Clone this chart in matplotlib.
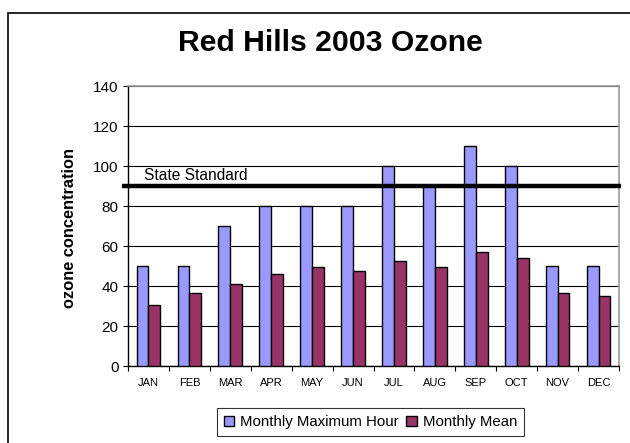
import matplotlib
matplotlib.use("Agg")
import matplotlib.pyplot as plt
import numpy as np
from matplotlib.patches import Rectangle

months = ["JAN", "FEB", "MAR", "APR", "MAY", "JUN", "JUL", "AUG", "SEP", "OCT", "NOV", "DEC"]
max_hour = [50, 50, 70, 80, 80, 80, 100, 90, 110, 100, 50, 50]
monthly_mean = [30.5, 36.5, 41, 46, 49.5, 47.5, 52.5, 49.5, 57, 54, 36.5, 35]
state_standard = 90

plt.rcParams['font.family'] = ['Liberation Sans', 'DejaVu Sans']

fig = plt.figure(figsize=(6.3, 4.43), dpi=100)
ax = fig.add_axes([128 / 630, 1 - 366 / 443, (619 - 128) / 630, (366 - 86) / 443])

# outer chart border (runs off the right and bottom edges)
fig.patches.append(Rectangle((8 / 630, -0.05), 1.0, 1 - 12.5 / 443 + 0.05,
                             transform=fig.transFigure, fill=False,
                             edgecolor="black", linewidth=1.2))

x = np.arange(len(months))
w = 0.29
ax.bar(x - w / 2, max_hour, w, color="#9999FF", edgecolor="black", linewidth=1.0,
       label="Monthly Maximum Hour", zorder=3)
ax.bar(x + w / 2, monthly_mean, w, color="#993366", edgecolor="black", linewidth=1.0,
       label="Monthly Mean", zorder=3)

ax.set_xlim(-0.5, 11.5)
ax.set_ylim(0, 140)
ax.set_yticks(range(0, 141, 20))
ax.yaxis.grid(True, color="black", linewidth=0.8, zorder=0)
ax.set_axisbelow(True)

ax.set_xticks(np.arange(-0.5, 12, 1))
ax.set_xticklabels([])
ax.set_xticks(x, minor=True)
ax.set_xticklabels(months, minor=True, fontsize=8)
ax.tick_params(axis="x", which="minor", length=0, pad=8.5)
ax.tick_params(axis="x", which="major", length=3.5, direction="out", color="black")
ax.tick_params(axis="y", length=3.8, direction="out", labelsize=11, pad=3)

for side in ["top", "right"]:
    ax.spines[side].set_color("#999999")
    ax.spines[side].set_linewidth(1.2)
for side in ["left", "bottom"]:
    ax.spines[side].set_color("black")
    ax.spines[side].set_linewidth(1.0)

ax.plot([-0.65, 11.56], [state_standard, state_standard], color="black",
        linewidth=3.2, clip_on=False, zorder=5, solid_capstyle="butt")
ax.text(-0.1, state_standard + 1.6, "State Standard", fontsize=11.2, va="bottom", ha="left")

fig.text(70 / 630, 1 - 228 / 443, "ozone concentration", fontsize=11.8, fontweight="bold",
         rotation=90, ha="center", va="center")
fig.text(330 / 630, 1 - 43 / 443, "Red Hills 2003 Ozone", fontsize=21.7,
         fontweight="bold", ha="center", va="center")

leg = fig.legend(loc="center", bbox_to_anchor=(370.5 / 630, 1 - 422 / 443), ncol=2,
                 fontsize=10.8, frameon=True, fancybox=False, handlelength=0.7,
                 handleheight=0.7, handletextpad=0.4, columnspacing=0.5,
                 borderpad=0.45)
leg.get_frame().set_edgecolor("black")
leg.get_frame().set_linewidth(0.8)

fig.savefig("out.png", dpi=100)
